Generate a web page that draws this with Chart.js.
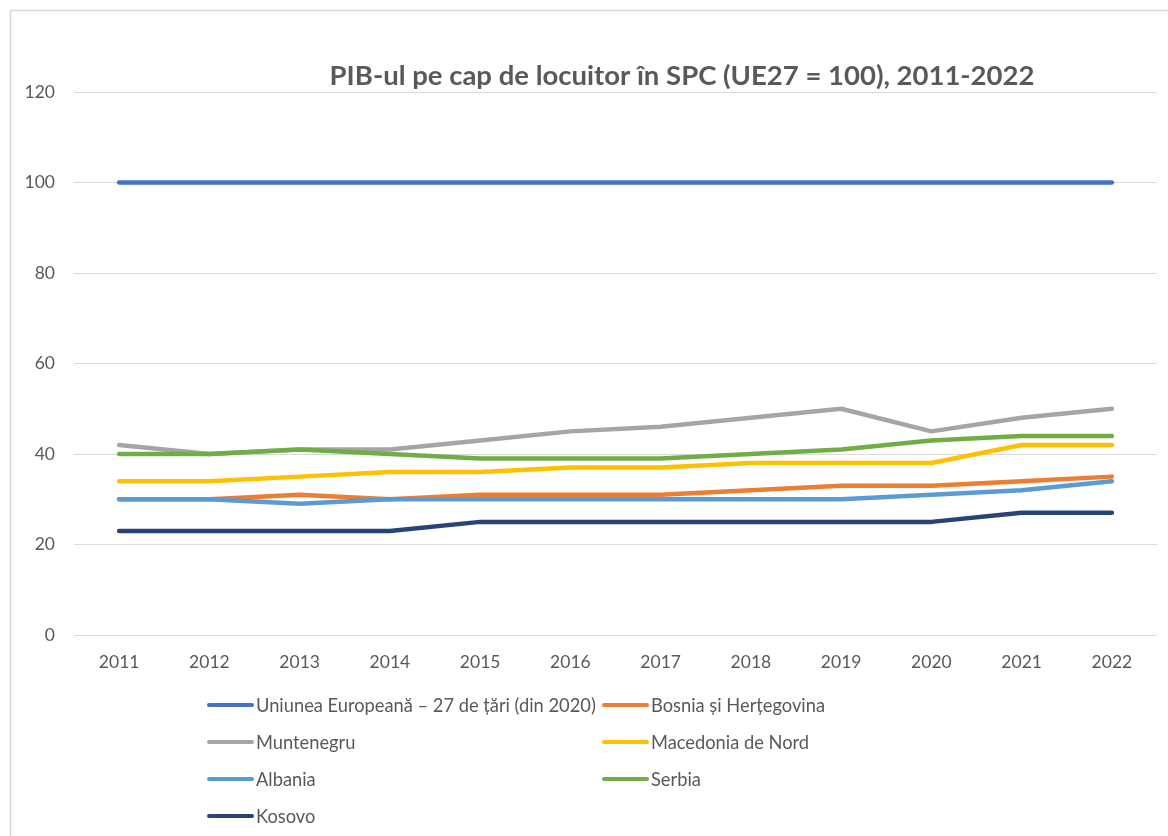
<!DOCTYPE html>
<html>
<head>
<meta charset="utf-8">
<script src="https://cdn.jsdelivr.net/npm/chart.js@4"></script>
<style>
  html, body { margin: 0; padding: 0; background: #fff; }
  #wrap { position: relative; width: 1168px; height: 836px; }
</style>
</head>
<body>
<div id="wrap"><canvas id="gdpChart" width="1168" height="836"></canvas></div>
<script>
const years = ['2011', '2012', '2013', '2014', '2015', '2016', '2017', '2018', '2019', '2020', '2021', '2022'];
const seriesNames = ['Uniunea Europeană – 27 de țări (din 2020)', 'Bosnia și Herțegovina', 'Muntenegru',
  'Macedonia de Nord', 'Albania', 'Serbia', 'Kosovo'];

const eu27 = [100, 100, 100, 100, 100, 100, 100, 100, 100, 100, 100, 100];
const bosnia = [30, 30, 31, 30, 31, 31, 31, 32, 33, 33, 34, 35];
const montenegro = [42, 40, 41, 41, 43, 45, 46, 48, 50, 45, 48, 50];
const northMacedonia = [34, 34, 35, 36, 36, 37, 37, 38, 38, 38, 42, 42];
const albania = [30, 30, 29, 30, 30, 30, 30, 30, 30, 31, 32, 34];
const serbia = [40, 40, 41, 40, 39, 39, 39, 40, 41, 43, 44, 44];
const kosovo = [23, 23, 23, 23, 25, 25, 25, 25, 25, 25, 27, 27];

const seriesValues = [eu27, bosnia, montenegro, northMacedonia, albania, serbia, kosovo];
const colors = ['#4472C4', '#ED7D31', '#A5A5A5', '#FFC000', '#5B9BD5', '#70AD47', '#264478'];

const titleText = 'PIB-ul pe cap de locuitor în SPC (UE27 = 100), 2011-2022';
const fontFamily = 'Lato, "Open Sans", sans-serif';
const textColor = '#595959';

// frame around the whole chart (only top and left edges are visible)
const framePlugin = {
  id: 'frame',
  beforeDraw(chart) {
    const ctx = chart.ctx;
    ctx.save();
    ctx.strokeStyle = '#d9d9d9';
    ctx.lineWidth = 1.5;
    ctx.strokeRect(10.5, 10.5, 2000, 2000);
    ctx.restore();
  }
};

// title sits just above the plot area
const titlePlugin = {
  id: 'ownTitle',
  afterDraw(chart) {
    const ctx = chart.ctx;
    ctx.save();
    ctx.font = 'bold 27.5px ' + fontFamily;
    ctx.fillStyle = textColor;
    ctx.textAlign = 'center';
    ctx.textBaseline = 'middle';
    ctx.fillText(titleText, 682, 76);
    ctx.restore();
  }
};

// two-column legend below the axis
const legendPlugin = {
  id: 'twoColLegend',
  afterDraw(chart) {
    const ctx = chart.ctx;
    const colX = [207, 602];
    ctx.save();
    ctx.font = '18.3px ' + fontFamily;
    ctx.textBaseline = 'middle';
    ctx.textAlign = 'left';
    chart.data.datasets.forEach((ds, i) => {
      const x = colX[i % 2];
      const y = 705 + Math.floor(i / 2) * 37;
      ctx.strokeStyle = ds.borderColor;
      ctx.lineWidth = 4;
      ctx.lineCap = 'round';
      ctx.beginPath();
      ctx.moveTo(x + 2, y);
      ctx.lineTo(x + 45, y);
      ctx.stroke();
      ctx.fillStyle = textColor;
      ctx.fillText(ds.label, x + 49, y + 1);
    });
    ctx.restore();
  }
};

const datasets = seriesNames.map((name, i) => ({
  label: name,
  data: seriesValues[i],
  borderColor: colors[i],
  backgroundColor: colors[i],
  borderWidth: 4.5,
  borderCapStyle: 'round',
  borderJoinStyle: 'round',
  pointRadius: 0,
  tension: 0,
  order: seriesNames.length - i
}));

new Chart(document.getElementById('gdpChart').getContext('2d'), {
  type: 'line',
  data: { labels: years, datasets },
  options: {
    responsive: false,
    animation: false,
    layout: { padding: { top: 92, right: 11, bottom: 161, left: 0 } },
    plugins: {
      legend: { display: false },
      title: { display: false },
      tooltip: { enabled: false }
    },
    scales: {
      x: {
        offset: true,
        grid: { display: false, drawTicks: false },
        border: { display: false },
        ticks: { color: textColor, font: { family: fontFamily, size: 17.5 }, padding: 17, maxRotation: 0 },
        afterFit(scale) { scale.height = 40; }
      },
      y: {
        min: 0,
        max: 120,
        ticks: { stepSize: 20, color: textColor, font: { family: fontFamily, size: 17.5 }, padding: 19 },
        grid: { color: '#d9d9d9', lineWidth: 1, drawTicks: false },
        border: { display: false },
        afterFit(scale) { scale.width = 74; }
      }
    }
  },
  plugins: [framePlugin, titlePlugin, legendPlugin]
});
</script>
</body>
</html>
